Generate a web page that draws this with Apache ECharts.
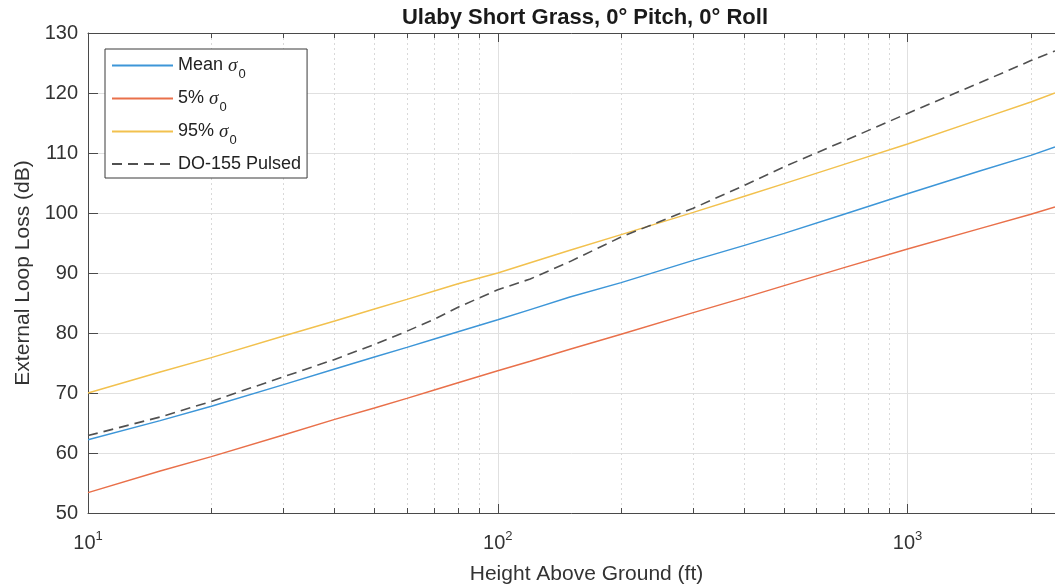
<!DOCTYPE html>
<html>
<head>
<meta charset="utf-8">
<script src="https://cdn.jsdelivr.net/npm/echarts@6/dist/echarts.min.js"></script>
<style>
  html, body { margin: 0; padding: 0; background: #fff; }
  #main { width: 1055px; height: 586px; }
</style>
</head>
<body>
<div id="main"></div>
<script>
// height above ground (ft)
const heights = [10, 15, 20, 30, 40, 50, 60, 70, 80, 100, 120, 150, 200, 300, 400, 500, 700, 1000, 1500, 2000, 2290];
// external loop loss (dB)
const meanLoss = [62.2, 65.4, 67.8, 71.4, 74.0, 76.0, 77.6, 79.0, 80.2, 82.2, 83.9, 86.0, 88.4, 92.1, 94.6, 96.6, 99.8, 103.2, 107.0, 109.6, 111.0];
const p5Loss = [53.4, 57.0, 59.4, 63.0, 65.6, 67.5, 69.1, 70.5, 71.7, 73.7, 75.3, 77.3, 79.8, 83.4, 85.9, 87.9, 90.9, 94.0, 97.4, 99.8, 101.0];
const p95Loss = [70.0, 73.5, 75.9, 79.5, 82.0, 84.0, 85.6, 87.0, 88.2, 90.0, 91.7, 93.8, 96.4, 100.1, 102.8, 104.9, 108.1, 111.5, 115.6, 118.5, 120.0];
const do155Loss = [62.9, 66.0, 68.6, 72.7, 75.6, 78.1, 80.3, 82.3, 84.3, 87.2, 89.0, 91.9, 96.0, 100.8, 104.6, 107.7, 112.0, 116.6, 121.7, 125.4, 127.0];

const majorTicks = [10, 100, 1000];
const minorTicks = [20, 30, 40, 50, 60, 70, 80, 90, 200, 300, 400, 500, 600, 700, 800, 900, 2000];

const font = 'Liberation Sans, Arial, sans-serif';
const axisColor = '#4a4a4a';
const textColor = '#333';

const legendText = {
  'Mean': '{t|Mean }{g|σ}{s|0}',
  '5%': '{t|5% }{g|σ}{s|0}',
  '95%': '{t|95% }{g|σ}{s|0}',
  'DO-155 Pulsed': '{t|DO-155 Pulsed}'
};

function pairs(ys) {
  return heights.map((h, i) => [h, ys[i]]);
}

function minorAxis(pos, split) {
  return {
    type: 'log', logBase: 10, min: 10, max: 2290, position: pos,
    axisLine: {show: false},
    axisTick: {show: true, inside: true, length: 5, customValues: minorTicks, lineStyle: {color: axisColor}},
    axisLabel: {show: false},
    splitLine: {show: split, lineStyle: {color: '#d9d9d9', type: [2, 3], width: 1}}
  };
}

const chart = echarts.init(document.getElementById('main'));
const option = {
  animation: false,
  backgroundColor: '#fff',
  title: {
    text: 'Ulaby Short Grass, 0° Pitch, 0° Roll',
    left: 580, textAlign: 'center', top: 2,
    textStyle: {fontSize: 22, fontWeight: 'bold', color: '#1a1a1a', fontFamily: font}
  },
  grid: {left: 88, right: 0, top: 33, bottom: 73, outerBoundsMode: 'none', containLabel: false},
  legend: {
    left: 105, top: 49, orient: 'vertical',
    padding: [7, 6, 5, 6],
    itemWidth: 61, itemHeight: 14, itemGap: 8,
    borderColor: '#3a3a3a', borderWidth: 1, backgroundColor: '#fff',
    itemStyle: {opacity: 0},
    data: ['Mean', '5%', '95%', 'DO-155 Pulsed'],
    formatter: name => legendText[name],
    textStyle: {
      rich: {
        t: {fontSize: 18, color: '#222', fontFamily: font},
        g: {fontSize: 19, color: '#222', fontStyle: 'italic', fontFamily: 'Liberation Serif, serif'},
        s: {fontSize: 13, color: '#222', fontFamily: font, padding: [18, 0, 0, 1]}
      }
    }
  },
  xAxis: [
    {
      type: 'log', logBase: 10, min: 10, max: 2290, position: 'bottom',
      axisLine: {show: true, lineStyle: {color: axisColor, width: 1}},
      axisTick: {show: true, inside: true, length: 9, customValues: majorTicks, lineStyle: {color: axisColor}},
      axisLabel: {
        customValues: majorTicks, margin: 17,
        formatter: v => '{b|10}{e|' + Math.round(Math.log10(v)) + '}',
        rich: {
          b: {fontSize: 20, color: textColor, fontFamily: font},
          e: {fontSize: 13, color: textColor, fontFamily: font, padding: [0, 0, 14, 0]}
        }
      },
      splitLine: {show: true, lineStyle: {color: '#e0e0e0', width: 1}},
      name: 'Height Above Ground (ft)', nameLocation: 'middle', nameGap: 51,
      nameTextStyle: {fontSize: 21, color: textColor, fontFamily: font, padding: [0, 0, 0, 30]}
    },
    minorAxis('bottom', true),
    {
      type: 'log', logBase: 10, min: 10, max: 2290, position: 'top',
      axisLine: {show: true, lineStyle: {color: axisColor, width: 1}},
      axisTick: {show: true, inside: true, length: 9, customValues: majorTicks, lineStyle: {color: axisColor}},
      axisLabel: {show: false},
      splitLine: {show: false}
    },
    minorAxis('top', false)
  ],
  yAxis: {
    type: 'value', min: 50, max: 130, interval: 10,
    axisLine: {show: true, lineStyle: {color: axisColor, width: 1}},
    axisTick: {show: true, inside: true, length: 10, lineStyle: {color: axisColor}},
    axisLabel: {fontSize: 20, color: textColor, fontFamily: font, margin: 10},
    splitLine: {show: true, lineStyle: {color: '#e0e0e0', width: 1}},
    name: 'External Loop Loss (dB)', nameLocation: 'middle', nameGap: 48,
    nameTextStyle: {fontSize: 21, color: textColor, fontFamily: font}
  },
  series: [
    {
      name: 'Mean', type: 'line', xAxisIndex: 0, symbol: 'none', data: pairs(meanLoss),
      lineStyle: {color: '#3d96d8', width: 1.5}, itemStyle: {color: '#3d96d8'}
    },
    {
      name: '5%', type: 'line', xAxisIndex: 0, symbol: 'none', data: pairs(p5Loss),
      lineStyle: {color: '#e9704a', width: 1.5}, itemStyle: {color: '#e9704a'}
    },
    {
      name: '95%', type: 'line', xAxisIndex: 0, symbol: 'none', data: pairs(p95Loss),
      lineStyle: {color: '#f2c14e', width: 1.5}, itemStyle: {color: '#f2c14e'}
    },
    {
      name: 'DO-155 Pulsed', type: 'line', xAxisIndex: 0, symbol: 'none', data: pairs(do155Loss),
      lineStyle: {color: '#505050', width: 1.6, type: [10, 6]}, itemStyle: {color: '#505050'}
    }
  ]
};
chart.setOption(option);
</script>
</body>
</html>
